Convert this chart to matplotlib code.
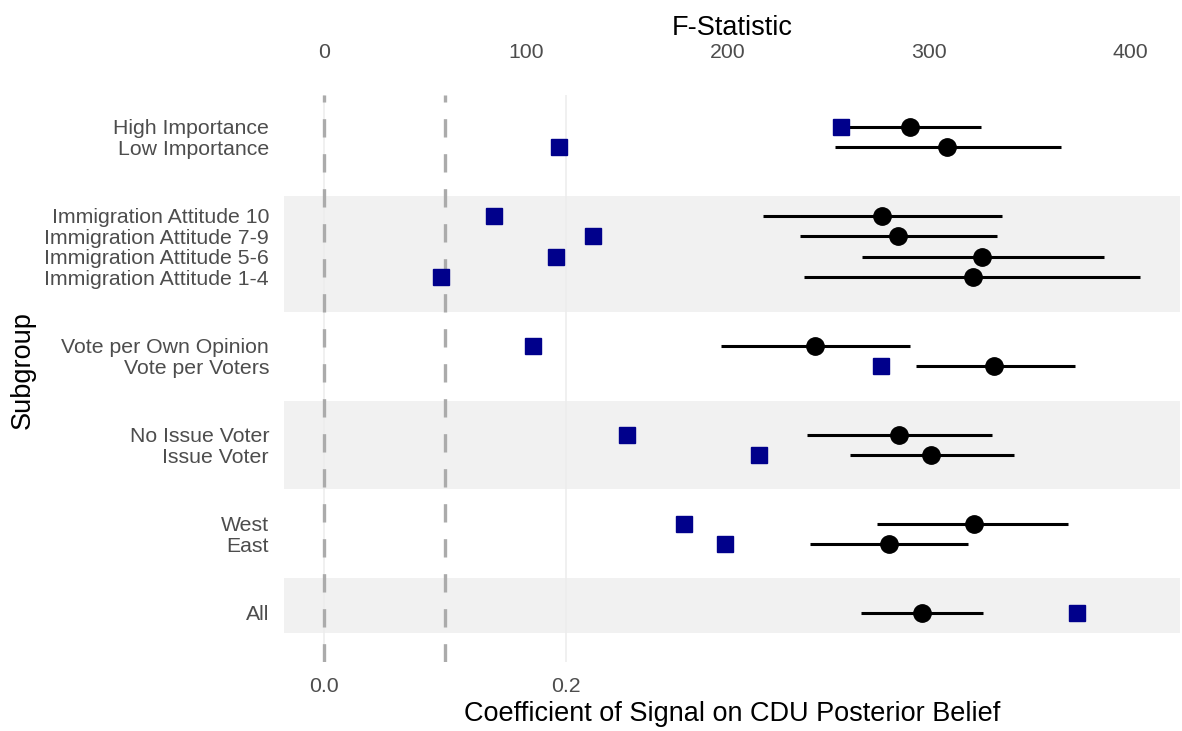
import matplotlib.pyplot as plt

plt.rcParams['font.family'] = ['Liberation Sans', 'DejaVu Sans']

# subgroups, top to bottom, in their blocks
groups = [
    ["High Importance", "Low Importance"],
    ["Immigration Attitude 10", "Immigration Attitude 7-9",
     "Immigration Attitude 5-6", "Immigration Attitude 1-4"],
    ["Vote per Own Opinion", "Vote per Voters"],
    ["No Issue Voter", "Issue Voter"],
    ["West", "East"],
    ["All"],
]

# coefficient of signal with its confidence interval
coef = [0.484, 0.515, 0.461, 0.474, 0.544, 0.536, 0.406, 0.554,
        0.475, 0.502, 0.537, 0.467, 0.494]
ci_low = [0.423, 0.422, 0.363, 0.393, 0.445, 0.397, 0.328, 0.489,
          0.399, 0.435, 0.457, 0.402, 0.444]
ci_high = [0.543, 0.609, 0.560, 0.556, 0.645, 0.674, 0.484, 0.621,
           0.552, 0.570, 0.615, 0.532, 0.545]

# first-stage F statistic
fstat = [256.5, 116.6, 84.4, 133.2, 115.2, 57.9, 103.8, 276.4,
         150.2, 215.8, 178.7, 199.0, 373.6]

# layout: one unit per row, a wider gap between blocks
gap = 3.34
labels, ypos = [], []
y = 0.0
for g in groups:
    for name in g:
        labels.append(name)
        ypos.append(y)
        y += 1
    y += gap - 1

shaded = [(3.39, 9.02), (13.37, 17.66), (22.0, 24.68)]

fig = plt.figure(figsize=(11.82, 7.31), dpi=100)
ax = fig.add_axes([284 / 1182, 1 - 662 / 731, 896 / 1182, 567 / 731])

xlim = (-0.033, 0.7074)
ax.set_xlim(xlim)
ax.set_ylim(26.1, -1.56)

for top, bot in shaded:
    ax.axhspan(top, bot, color='#f1f1f1', lw=0, zorder=0)

ax.set_xticks([0.0, 0.2], ['0.0', '0.2'])
ax.grid(axis='x', color='#ececec', lw=1.1, zorder=0.5)
ax.grid(axis='y', visible=False)
ax.set_axisbelow(True)

for xv in [0.0, 0.1]:
    ax.axvline(xv, color='#ababab', lw=2.4, dashes=(5.5, 5), zorder=1)

ax.errorbar(coef, ypos, xerr=[[c - l for c, l in zip(coef, ci_low)],
                              [h - c for c, h in zip(coef, ci_high)]],
            fmt='o', color='black', ms=12.5, elinewidth=2.2, capsize=0, zorder=3)

ax.set_yticks(ypos, labels)
ax.tick_params(axis='y', length=0, pad=10.8, labelsize=15.3, labelcolor='#4d4d4d')
ax.tick_params(axis='x', length=0, pad=10.5, labelsize=15.3, labelcolor='#4d4d4d')
for s in ax.spines.values():
    s.set_visible(False)

ax.set_xlabel('Coefficient of Signal on CDU Posterior Belief', fontsize=19.5)
ax.xaxis.set_label_coords(0.5, -0.0917)
ax.xaxis.label.set_va('center')
ax.set_ylabel('Subgroup', fontsize=19.5)
ax.yaxis.set_label_coords(-0.292, 0.515)
ax.yaxis.label.set_va('center')

ax2 = ax.twiny()
ax2.set_xlim(xlim[0] * 600, xlim[1] * 600)
ax2.plot(fstat, ypos, ls='none', marker='s', ms=11.3, color='#00008b', zorder=4)
ax2.set_xticks([0, 100, 200, 300, 400])
ax2.tick_params(axis='x', length=0, pad=24, labelsize=15.3, labelcolor='#4d4d4d')
for s in ax2.spines.values():
    s.set_visible(False)
ax2.set_xlabel('F-Statistic', fontsize=19.5)
ax2.xaxis.set_label_coords(0.5, 1.118)
ax2.xaxis.label.set_va('center')

fig.savefig('out.png', dpi=100)
